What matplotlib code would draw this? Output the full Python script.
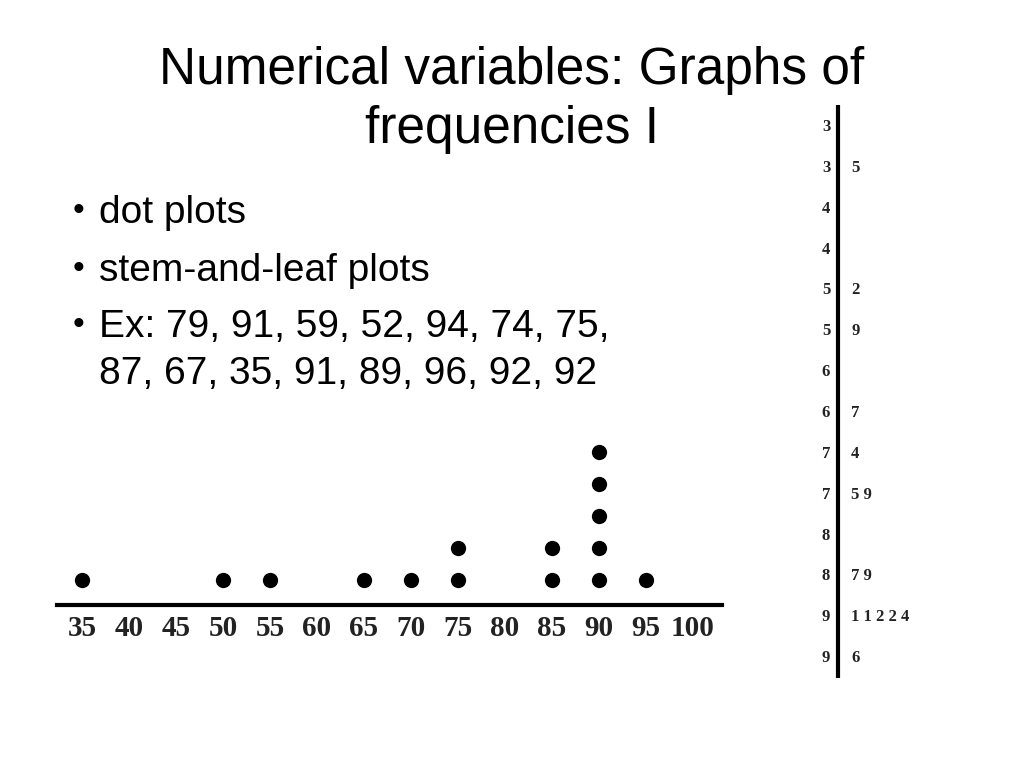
import matplotlib
matplotlib.use("Agg")
import matplotlib.pyplot as plt

# Slide text
title_lines = ["Numerical variables: Graphs of", "frequencies I"]
bullets = ["dot plots", "stem-and-leaf plots", "Ex: 79, 91, 59, 52, 94, 74, 75,\n87, 67, 35, 91, 89, 96, 92, 92"]

# Dot plot: values rounded to nearest 5 and how many dots are stacked
dot_values = [35, 50, 55, 65, 70, 75, 85, 90, 95]
dot_counts = [1, 1, 1, 1, 1, 2, 2, 5, 1]
dot_ticks = [35, 40, 45, 50, 55, 60, 65, 70, 75, 80, 85, 90, 95, 100]

# Stem-and-leaf (split stems)
stems = [3, 3, 4, 4, 5, 5, 6, 6, 7, 7, 8, 8, 9, 9]
leaves = ["", "5", "", "", "2", "9", "", "7", "4", "5 9", "", "7 9", "1 1 2 2 4", "6"]

W, H = 1024, 768
fig = plt.figure(figsize=(W / 100, H / 100), dpi=100)
fig.patch.set_facecolor("white")

sans = ["Liberation Sans", "DejaVu Sans"]
serif = ["Liberation Serif", "DejaVu Serif"]


def px_box(x0, y0, x1, y1):
    return [x0 / W, 1 - y1 / H, (x1 - x0) / W, (y1 - y0) / H]


# title, one text per line
for line, yb in zip(title_lines, [84, 143]):
    fig.text(0.5, 1 - yb / H, line, ha="center", va="baseline", fontsize=37, family=sans)

# bullets
baselines = [223, 281, 337]
for b, y in zip(bullets, baselines):
    fig.text(73 / W, 1 - (y - 3) / H, "\u2022", ha="left", va="baseline", fontsize=24, family=sans)
    for j, line in enumerate(b.split("\n")):
        fig.text(99 / W, 1 - (y + 47 * j) / H, line, ha="left", va="baseline",
                 fontsize=28, family=sans)

# dot plot
ax = fig.add_axes(px_box(57, 420, 722, 605))
for v, c in zip(dot_values, dot_counts):
    ax.plot([v] * c, list(range(c)), "o", color="black", markersize=11, markeredgewidth=0)
ax.set_xlim(32.34, 103.09)
ax.set_ylim(-0.78, 5)
for s in ["top", "left", "right"]:
    ax.spines[s].set_visible(False)
ax.spines["bottom"].set_linewidth(3)
ax.set_yticks([])
ax.set_xticks(dot_ticks)
ax.set_xticklabels([str(t) for t in dot_ticks], fontsize=21, fontweight="bold", family=serif,
                   color="#222222")
ax.tick_params(axis="x", length=0, pad=7)
ax.set_facecolor("none")

# stem-and-leaf
ax2 = fig.add_axes(px_box(800, 100, 940, 690))
ax2.set_xlim(0, 1)
ax2.set_ylim(13.78, -0.661)
ax2.axis("off")
ax2.plot([0.271, 0.271], [-0.54, 13.49], color="black", linewidth=3, solid_capstyle="butt")
for i, (s, lf) in enumerate(zip(stems, leaves)):
    ax2.text(0.186, i, str(s), ha="center", va="center", fontsize=12, fontweight="bold",
             family=serif, color="#222222")
    if lf:
        ax2.text(0.365, i, lf, ha="left", va="center", fontsize=12, fontweight="bold",
                 family=serif, color="#222222")

fig.savefig("out.png", dpi=100)
